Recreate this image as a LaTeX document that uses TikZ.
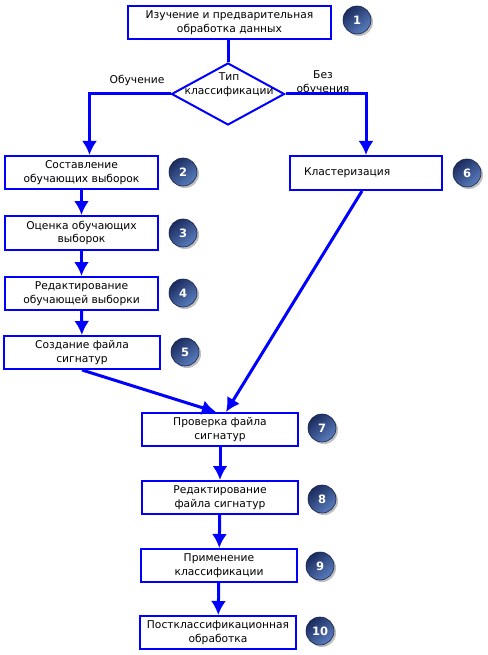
\documentclass[tikz,border=0pt]{standalone}
\usepackage{fontspec}
\setmainfont{DejaVu Sans}
\usetikzlibrary{arrows.meta,shapes.geometric,shadows,positioning}
\definecolor{navydark}{HTML}{1B2B5E}
\definecolor{navylight}{HTML}{5A7EBE}
\definecolor{navyedge}{HTML}{15224A}
\tikzset{>={Latex[length=14pt,width=15pt]}}
\tikzset{
  stepbox/.style={draw=blue, line width=2pt, fill=white, minimum height=33pt, inner sep=0pt, align=center, font=\fontsize{10.7}{13.5}\selectfont},
  link/.style={blue, line width=3pt},
  numball/.style={circle, minimum size=28pt, inner sep=0pt, draw=navyedge, line width=0.6pt, top color=navydark, bottom color=navylight, shading angle=40, text=white, font=\fontsize{11.5}{12}\selectfont\bfseries, drop shadow={opacity=0.25, shadow xshift=2pt, shadow yshift=-2pt, fill=black}},
  caption/.style={align=center, inner sep=0pt, font=\fontsize{10.7}{14}\selectfont}
}

\begin{document}
\begin{tikzpicture}[x=1pt,y=-1pt]
    \useasboundingbox (0,0) rectangle (487,655);

    % steps
    \node[stepbox, minimum width=203pt] (prep) at (229.5,22.5) {Изучение и предварительная\\обработка данных};
    \node[diamond, draw=blue, line width=2pt, minimum width=113pt, minimum height=62pt, inner sep=0pt] (kind) at (228,94) {};
    \node[caption] (typ) at (229,85) {Тип\\классификации};
    \node[stepbox, minimum width=153pt] (train) at (81.5,172.5) {Составление\\обучающих выборок};
    \node[stepbox, minimum width=153pt, minimum height=34pt] (judge) at (81.5,233) {Оценка обучающих\\выборок};
    \node[stepbox, minimum width=153pt] (edit) at (81.5,293.5) {Редактирование\\обучающей выборки};
    \node[stepbox, minimum width=156pt] (sig) at (82,352.5) {Создание файла\\сигнатур};
    \node[stepbox, minimum width=152pt, minimum height=34pt, text width=124pt, align=left] (clus) at (366,173) {Кластеризация};
    \node[stepbox, minimum width=156pt] (check) at (220,429.5) {Проверка файла\\сигнатур};
    \node[stepbox, minimum width=156pt] (fix) at (220,497.5) {Редактирование\\файла сигнатур};
    \node[stepbox, minimum width=156pt] (apply) at (219,565.5) {Применение\\классификации};
    \node[stepbox, minimum width=156pt] (post) at (218,632.5) {Постклассификационная\\обработка};

    % branch labels
    \node[caption] (lblyes) at (137,80) {Обучение};
    \node[caption] (lblno) at (323,83) {Без\\обучения};

    % numbers
    \node[numball] (n1) at (357,20) {1};
    \node[numball] (n2) at (183,172) {2};
    \node[numball] (n3) at (183,233) {3};
    \node[numball] (n4) at (183,293) {4};
    \node[numball] (n5) at (185,352) {5};
    \node[numball] (n6) at (467,173) {6};
    \node[numball] (n7) at (322,428) {7};
    \node[numball] (n8) at (322,499) {8};
    \node[numball] (n9) at (320,566) {9};
    \node[numball] (n10) at (320,631) {10};

    % connectors
    \draw[link] (kind.north) -- (kind.north |- prep.south);
    \draw[link,->] (kind.west) -| ([xshift=8pt]train.north);
    \draw[link,->] (kind.east) -| (clus.north);
    \draw[link,->] (train) -- (judge);
    \draw[link,->] (judge) -- (edit);
    \draw[link,->] (edit) -- (sig);
    \draw[link,->] (sig.south) -- ([xshift=-4pt]check.north);
    \draw[link,->] ([xshift=-4pt]clus.south) -- ([xshift=6pt]check.north);
    \draw[link,->] (check) -- (fix);
    \draw[link,->] (fix) -- (apply);
    \draw[link,->] (apply) -- (post);
\end{tikzpicture}
\end{document}
